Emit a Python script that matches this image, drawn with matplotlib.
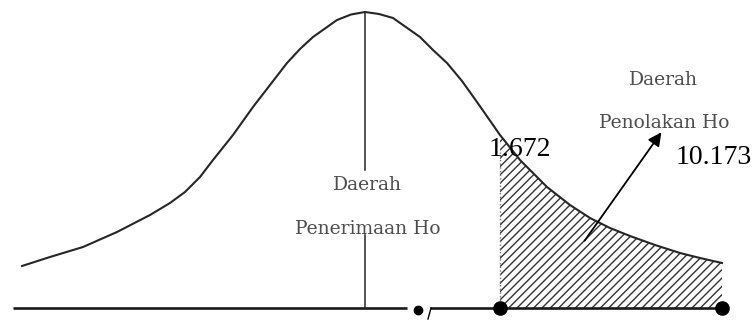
import numpy as np
import matplotlib
matplotlib.use("Agg")
import matplotlib.pyplot as plt

# Curve: x position and height above the base line
curve_x = [22, 50, 83, 117, 150, 170, 185, 200, 213, 233, 253, 270, 287, 300, 313, 337, 351, 365,
           379, 393, 420, 433, 447, 462, 477, 500, 520, 547, 570, 590, 610, 630, 655, 680, 700, 722]
curve_y = [42, 51, 61, 76, 93, 105, 116, 131, 148, 173, 201, 223, 245, 259, 271, 288, 293.5, 296,
           294, 290, 271, 258, 245, 227, 206, 173, 148, 121, 103, 90, 80, 72, 63, 55, 50, 45]

# Critical points on the base line and their labels
crit_x = [500, 722]
crit_labels = ["1.672", "10.173"]
center_x = 365
mid_dot_x = 418

# Region labels
accept_label = ["Daerah", "Penerimaan Ho"]
reject_label = ["Daerah", "Penolakan Ho"]

curve_x = np.array(curve_x)
curve_y = np.array(curve_y)

fig = plt.figure(figsize=(7.56, 3.23), dpi=100)
ax = fig.add_axes([0, 0, 1, 1])
ax.set_xlim(0, 756)
ax.set_ylim(-15, 308)
ax.axis("off")

# Base line (broken near the small dot)
ax.plot([13, 407], [0, 0], color="#1a1a1a", lw=1.9, solid_capstyle="butt")
ax.plot([430, 727], [0, 0], color="#1a1a1a", lw=1.9, solid_capstyle="butt")
ax.plot([431, 428], [0, -11], color="black", lw=1.0)

# The curve
ax.plot(curve_x, curve_y, color="#262626", lw=1.5, solid_joinstyle="round")

# Hatched rejection area
mask = (curve_x >= crit_x[0]) & (curve_x <= crit_x[1])
ax.fill_between(curve_x[mask], 0, curve_y[mask], facecolor="none",
                edgecolor="#333333", linewidth=0, hatch="////")
ax.plot([crit_x[0], crit_x[0]], [0, 158], color="#777777", lw=1.0, ls=":")

# Center line, with a gap for the text
peak = curve_y.max()
ax.plot([center_x, center_x], [138, peak], color="#262626", lw=1.1)
ax.plot([center_x, center_x], [0, 73], color="#262626", lw=1.1)

# Dots on the base line
ax.plot(crit_x, [0, 0], "o", color="black", ms=9.5)
ax.plot([mid_dot_x], [-2], "o", color="black", ms=6)

# Arrow pointing to the rejection label
ax.annotate("", xy=(663, 178), xytext=(583, 65),
            arrowprops=dict(arrowstyle="-|>", color="black", lw=1.3,
                            mutation_scale=20))

gray_font = dict(family="DejaVu Serif", fontsize=13.5, color="#4d4d4d",
                 ha="center", va="center")
ax.text(367, 308 - 185, accept_label[0], **gray_font)
ax.text(368, 308 - 229, accept_label[1], **gray_font)
ax.text(663, 308 - 80, reject_label[0], **gray_font)
ax.text(664, 308 - 123, reject_label[1], **gray_font)

num_font = dict(family="Liberation Serif", fontsize=20, color="black",
                ha="center", va="center")
ax.text(crit_x[0] + 20, 308 - 150, crit_labels[0], **num_font)
ax.text(crit_x[1] - 8, 308 - 157, crit_labels[1], **num_font)

plt.savefig("out.png", dpi=100)
